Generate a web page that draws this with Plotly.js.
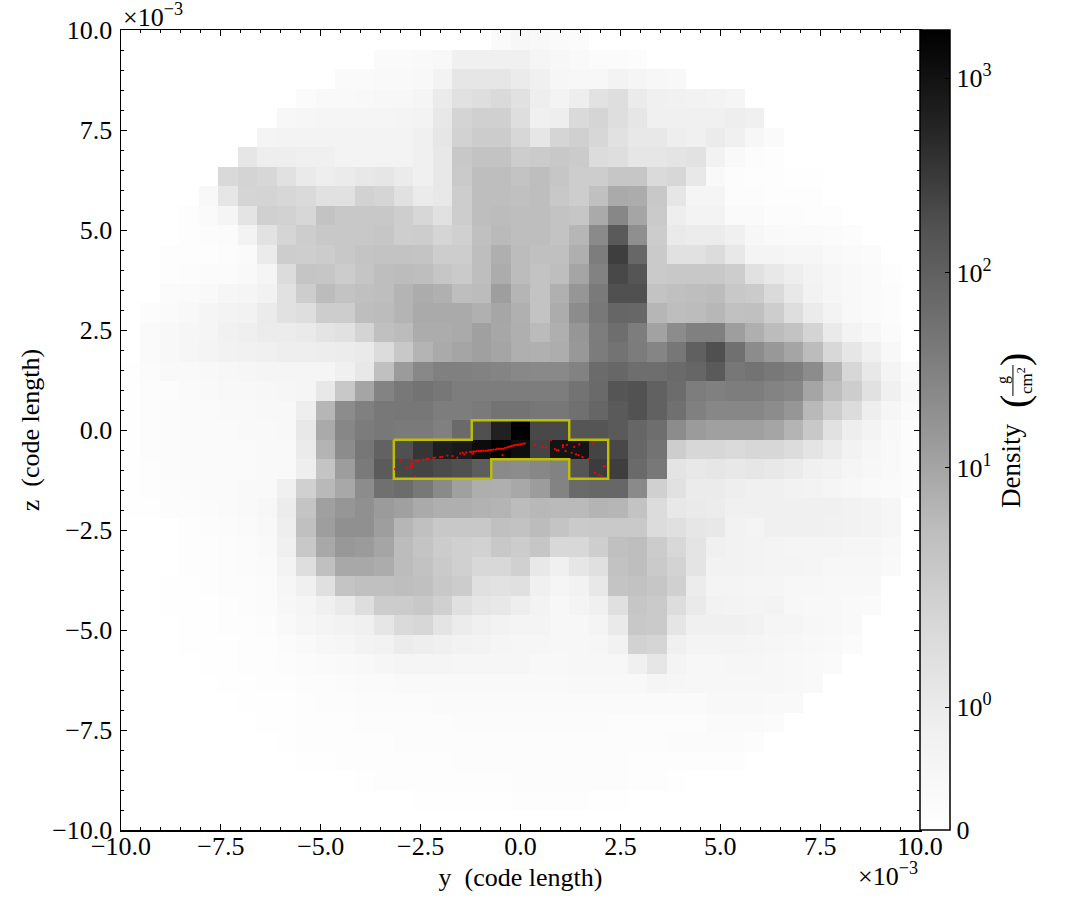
<!DOCTYPE html>
<html>
<head>
<meta charset="utf-8">
<script src="https://cdn.plot.ly/plotly-3.0.1.min.js"></script>
<style>html,body{margin:0;padding:0;background:#fff}</style>
</head>
<body>
<div id="chart" style="width:1085px;height:919px"></div>
<script>
// Cell centres, units of 1e-3 code length (41 x 41 cells over -10..10)
const cellCount = 41;
const cellCentres = Array.from({length: cellCount}, (_, i) => -10 + (i + 0.5) * 20 / cellCount);

// Projected density, g/cm^2, row by row from the top (z = +) to the bottom (z = -)
const density = [
[0,0,0,0,0,0,0,0,0,0,0,0,0,0,0,0,0,0,0,.27,.44,.38,.27,.22,0,0,0,0,0,0,0,0,0,0,0,0,0,0,0,0,0],
[0,0,0,0,0,0,0,0,0,0,0,0,0,.27,.27,.33,.38,.82,.82,.82,.82,.54,.44,.33,.22,.22,.16,0,0,0,0,0,0,0,0,0,0,0,0,0,0],
[0,0,0,0,0,0,0,0,0,0,0,.27,.27,.33,.33,.38,.65,1.18,1.18,1.18,.99,.82,.49,.44,.44,.65,.54,.44,.38,0,0,0,0,0,0,0,0,0,0,0,0],
[0,0,0,0,0,0,0,0,0,.22,.33,.33,.38,.44,.44,.54,.99,1.35,1.46,1.6,1.35,.89,.65,.89,1.31,1.46,.99,.82,.76,.71,.65,.54,0,0,0,0,0,0,0,0,0],
[0,0,0,0,0,0,0,0,.44,.49,.54,.54,.54,.54,.6,.65,1.1,1.8,2.13,2.13,1.46,.82,.89,1.6,1.75,1.46,1.18,.82,.82,.82,.82,.89,.82,0,0,0,0,0,0,0,0],
[0,0,0,0,0,0,0,.6,.65,.65,.65,.65,.65,.65,.65,.82,1.18,1.96,2.54,2.54,1.69,1.18,1.75,2.13,1.69,1.35,1.1,1.1,.89,.82,.99,.82,.44,.27,0,0,0,0,0,0,0],
[0,0,0,0,0,0,1.18,.89,.89,.82,.82,.65,.65,.65,.65,.82,1.1,3,3.7,3.7,2.44,2.6,3,2.6,1.53,1.46,1.18,1.18,1.24,1.31,.71,.33,.16,.11,0,0,0,0,0,0,0],
[0,0,0,0,0,1.63,1.8,1.69,1.35,1.03,.89,.99,1.1,1.18,.99,.82,1.1,2.76,4.6,4.6,3.7,4.6,3.3,2.44,2.44,3.3,3.3,1.6,1.69,1.1,.33,.16,.11,.11,.05,.05,0,0,0,0,0],
[0,0,0,0,.38,1.18,1.75,1.8,1.69,1.6,1.35,1.35,1.96,1.75,1.35,.99,1.1,2.44,4.6,4.6,4.2,4.6,3,2.44,4.2,8.5,8,3,1.18,.54,.54,.16,.16,.11,.11,.11,0,0,0,0,0],
[0,0,0,.11,.27,.54,1.24,2.13,1.96,1.69,3.7,3,3,3,2.3,1.69,1.35,2.44,4.6,4.9,4.6,4.6,3.7,3.3,8.5,26,9.9,2.76,.89,.65,.65,.27,.27,.16,.16,.11,.11,0,0,0,0],
[0,0,0,.11,.16,.22,.65,1.31,1.75,2.44,3,3,3,3.3,2.3,2.44,1.75,2.13,4.2,5.2,4.6,4.6,3.7,5.9,23,125,20,2.54,1.03,.96,.96,.82,.44,.33,.27,.27,.22,.16,0,0,0],
[0,0,.11,.11,.11,.16,.27,.99,2.44,2.3,2.54,3,3.56,3.7,3.7,3.56,2.44,2.44,4.6,7.3,4.9,4.2,4.2,7.3,36,282,78,2.76,1.35,1.35,1.53,1.1,.6,.6,.49,.49,.33,.27,.22,0,0],
[0,0,.11,.16,.22,.22,.33,.54,1.53,3.4,3.3,2.54,3.4,4.6,4.9,4.6,3.3,2.76,4.6,8,4.9,3.7,4.6,9.9,30.5,216,149,2.76,3,3,3,2.44,1.35,1.1,.89,.65,.49,.38,.27,.11,0],
[0,0,.22,.27,.33,.49,.54,.71,1.35,2.44,4.9,3.7,4.2,4.6,6.3,8,7,4.6,4.9,12.2,6,3.7,7,15.6,40,175,175,3.7,4.2,4.6,4.9,3,2.6,1.6,1.1,.71,.49,.38,.27,.16,0],
[0,.16,.27,.38,.54,.65,.71,.99,1.35,1.46,2.44,2.44,4.6,4.9,6.3,8.5,8.5,8.5,7,9.5,7,3.7,8,21.9,43,82,78,5.9,4.6,4.9,5.7,4,4.2,2.44,1.46,.99,.65,.38,.27,.16,0],
[0,.27,.38,.49,.54,.76,.85,.96,.96,1.03,1.24,1.35,1.8,4.2,4.9,8,8,8.5,11.5,9.3,7.3,5,7.3,15.6,36,61,36,10.9,21.9,33,33,12.2,7.3,4.9,3.7,1.8,1.03,.65,.44,.22,0],
[0,.27,.38,.49,.6,.71,.76,.82,.89,.89,.92,.96,1.03,1.53,3,6.3,8.5,9.9,11.5,9.9,7.3,7,7.8,14.7,38,50,38,28,45,100,175,56,21.9,14.7,9.9,4.9,1.65,1.18,.82,.38,0],
[.05,.22,.33,.33,.38,.44,.49,.54,.54,.54,.54,.82,1.1,4.2,13.4,25,33,33,31,28.5,25,24,24,31,68,78,61,61,71,82,125,45,51,43,36,21.9,6.3,1.69,1.1,.6,.27],
[.05,.16,.16,.27,.33,.38,.38,.44,.49,.54,1.1,3,9.9,30,43,51,45,36,36,36,36,36,36,51,71,149,166,98,65,36,33,36,36,30,26,9.9,4.6,2.44,1.35,.82,.38],
[.05,.16,.22,.27,.27,.33,.33,.38,.38,.89,5.9,21.9,33,43,45,45,36,36,40,51,51,45,45,56,82,125,166,98,56,33,26,26,26,21.9,15.6,5.4,2.44,1.53,.89,.49,.27],
[.05,.16,.22,.27,.27,.27,.33,.33,.38,1.1,8.5,26,38,43,40,40,33,71,175,616,1784,216,216,149,149,125,82,61,21.9,13.4,11.5,11.5,11.5,9.9,6.3,3,1.35,.89,.65,.38,.16],
[.05,.16,.22,.27,.27,.27,.27,.33,.33,.99,6.3,21.9,45,95,175,350,673,790,1200,1784,1130,240,930,930,240,216,78,51,2.44,1.69,1.69,1.6,1.69,1.69,1.53,1.24,.99,.71,.49,.33,.16],
[.05,.11,.22,.27,.27,.27,.27,.33,.33,.89,3.5,12.5,40,118,227,240,200,175,110,23.4,22,26,30.5,149,295,282,71,43,1.24,1.1,1.18,1.1,1.18,1.1,.99,.82,.71,.54,.44,.33,.16],
[.05,.11,.16,.22,.27,.27,.33,.33,.82,2.13,5.4,9,21.9,56,65,43,23.4,11.5,7.5,7.3,9,13,30,71,78,78,23.4,2.1,1.35,.99,.99,.89,.82,.82,.71,.65,.54,.44,.33,.27,.16],
[.05,.05,.16,.16,.22,.27,.33,.44,.96,3.56,11.5,15.6,19,13.4,11.5,8.5,7.3,7.3,6.6,6.3,4.9,5.5,5.2,5.2,6.3,5.9,3.7,1.53,1.1,1.03,.96,.82,.82,.82,.82,.82,.82,.71,.65,.49,0],
[0,0,0,.11,.16,.22,.27,.38,.89,4.2,12.2,19,19,12.2,5.9,4.2,3,3,3,4.2,3.9,4.9,3.6,2.8,2.9,2.9,2.9,1.53,1.39,1.18,1.1,.7,.6,.82,.82,.82,.76,.71,.65,.49,0],
[0,0,0,.11,.11,.16,.22,.33,.82,3,9,14.7,13.4,10,4.9,3.56,2.54,2.13,1.96,3,2.54,3.3,1.65,1.65,2.3,4.2,4.6,2.54,1.65,1.25,.82,.71,.65,.6,.54,.54,.54,.49,.49,.38,0],
[0,0,0,.11,.11,.16,.22,.27,.65,1.46,4.2,9,9,8,4.9,3.9,2.76,2.13,1.65,1.65,2.13,1.1,.82,1.18,1.39,3.9,4.6,2.8,1.9,1.25,.71,.71,.65,.6,.6,.54,.44,.44,.44,.33,0],
[0,0,.05,.05,.11,.16,.16,.22,.49,.82,1.39,3.56,4.2,4.2,4.6,4.2,3,2.54,1.39,1.31,1.39,.82,.54,.71,1.1,3.56,3.9,3.3,2.13,.96,.6,.6,.54,.54,.44,.44,.38,.38,.38,0,0],
[0,0,.05,.05,.05,.11,.16,.22,.44,.54,.82,1.03,1.46,2.54,2.54,3,2.13,1.39,1.18,1.1,.89,.65,.44,.6,.82,1.39,3.3,2.8,1.5,1.03,.7,.65,.6,.65,.44,.38,.38,.33,.27,0,0],
[0,0,0,.05,.05,.11,.11,.16,.33,.49,.6,.71,.82,1.18,1.6,1.69,1.24,.96,.82,.71,.6,.6,.44,.44,.6,1.03,3,2.8,1.2,.82,.82,.82,.7,.54,.54,.44,.38,.33,0,0,0],
[0,0,0,.05,.05,.05,.11,.11,.22,.33,.44,.49,.65,.71,.96,.89,.82,.71,.65,.54,.49,.5,.44,.44,.49,.7,2,1.75,.82,.6,.6,.6,.54,.49,.44,.38,.33,.22,0,0,0],
[0,0,0,0,.05,.05,.11,.11,.16,.22,.27,.33,.38,.49,.54,.54,.54,.49,.49,.49,.49,.38,.38,.44,.44,.44,.82,1.18,.6,.44,.44,.49,.49,.44,.38,.33,.27,0,0,0,0],
[0,0,0,0,0,.05,.05,.11,.11,.16,.16,.22,.27,.27,.33,.33,.33,.33,.33,.33,.33,.33,.33,.38,.38,.38,.38,.54,.49,.44,.44,.44,.44,.44,.38,.33,0,0,0,0,0],
[0,0,0,0,0,0,.05,.05,.05,.11,.16,.16,.22,.22,.22,.22,.27,.27,.27,.27,.27,.27,.27,.27,.27,.27,.27,.27,.27,.27,.38,.38,.38,.33,.33,0,0,0,0,0,0],
[0,0,0,0,0,0,0,.05,.05,.11,.11,.11,.16,.16,.16,.16,.16,.22,.22,.22,.22,.22,.22,.22,.22,.16,.16,.16,.16,.16,.27,.27,.27,.22,0,0,0,0,0,0,0],
[0,0,0,0,0,0,0,0,.05,.11,.11,.11,.11,.11,.16,.16,.16,.16,.16,.16,.16,.16,.16,.16,.16,.16,.16,.16,.22,.22,.22,.22,.16,0,0,0,0,0,0,0,0],
[0,0,0,0,0,0,0,0,0,.05,.05,.11,.11,.11,.11,.11,.11,.16,.16,.16,.16,.16,.16,.16,.16,.16,.11,.11,.11,.11,.11,.11,0,0,0,0,0,0,0,0,0],
[0,0,0,0,0,0,0,0,0,0,0,0,.05,.11,.11,.11,.11,.11,.11,.11,.16,.16,.16,.16,.16,.16,.11,.11,.05,0,0,0,0,0,0,0,0,0,0,0,0],
[0,0,0,0,0,0,0,0,0,0,0,0,0,0,0,.05,.05,.05,.05,.05,.11,.11,.11,.11,.05,.05,0,0,0,0,0,0,0,0,0,0,0,0,0,0,0],
[0,0,0,0,0,0,0,0,0,0,0,0,0,0,0,0,0,0,0,0,0,0,0,0,0,0,0,0,0,0,0,0,0,0,0,0,0,0,0,0,0]
];

// Yellow contour outline (data units of 1e-3)
const contourY = [-3.171,-1.220,-1.220,1.220,1.220,2.195,2.195,1.220,1.220,-0.732,-0.732,-3.171,-3.171];
const contourZ = [-0.244,-0.244,0.244,0.244,-0.244,-0.244,-1.220,-1.220,-0.732,-0.732,-1.220,-1.220,-0.244];

// Red particles (data units of 1e-3)
const particleY = [-3.14,-3.01,-2.85,-2.76,-2.72,-2.74,-2.70,-2.72,-2.62,-2.56,-2.43,-2.35,-2.31,-2.18,-2.14,-2.01,-1.96,-1.83,-1.70,-1.58,-1.51,-1.45,-1.41,-1.36,-2.64,-1.26,-1.22,-1.18,-1.14,-1.10,-1.05,-1.01,-0.97,-0.93,-0.88,-0.84,-0.80,-0.76,-0.72,-0.68,-0.63,-0.59,-0.55,-0.51,-0.47,-0.43,-0.39,-0.34,-0.30,-0.26,-0.22,-0.18,-0.14,-0.09,-0.05,-0.01,0.03,0.07,0.11,-1.19,-0.45,0.36,0.55,0.64,0.76,0.86,0.91,0.95,1.06,1.06,1.13,1.16,1.28,1.34,1.39,1.45,1.47,1.55,1.70,1.81,1.86,1.97,2.03,2.09,2.12];
const particleZ = [-0.98,-0.77,-0.94,-0.93,-0.75,-0.84,-0.84,-0.91,-0.78,-0.77,-0.74,-0.73,-0.72,-0.70,-0.69,-0.68,-0.67,-0.64,-0.65,-0.69,-0.59,-0.57,-0.61,-0.56,-1.15,-0.55,-0.55,-0.54,-0.54,-0.53,-0.53,-0.53,-0.52,-0.52,-0.52,-0.52,-0.51,-0.50,-0.50,-0.49,-0.49,-0.48,-0.47,-0.47,-0.47,-0.47,-0.45,-0.44,-0.43,-0.41,-0.40,-0.39,-0.38,-0.37,-0.37,-0.36,-0.35,-0.34,-0.34,-0.59,-0.63,-0.37,-0.43,-0.44,-0.25,-0.48,-0.51,-0.51,-0.38,-0.43,-0.53,-0.37,-0.57,-0.42,-0.61,-0.63,-0.36,-0.68,-0.72,-0.34,-1.07,-1.12,-1.15,-0.91,-0.90];

// Colour bar labels
const barValues = [0, 1, 10, 100, 1000];
const barLabels = ['0', '10<sup>0</sup>', '10<sup>1</sup>', '10<sup>2</sup>', '10<sup>3</sup>'];
const axisTicks = [-10, -7.5, -5, -2.5, 0, 2.5, 5, 7.5, 10];

// Symmetric-log colour scale position (0..1), the library then maps it to greys
const LINTHRESH = 1.75, DECADE = 0.2434, LINSCALE = 1.105;
const scale = d => d <= LINTHRESH ? DECADE * LINSCALE * d / LINTHRESH
                                  : DECADE * (LINSCALE + Math.log10(d / LINTHRESH));

// matplotlib "Greys"
const greys = [[0,'rgb(255,255,255)'],[0.125,'rgb(240,240,240)'],[0.25,'rgb(217,217,217)'],[0.375,'rgb(189,189,189)'],
               [0.5,'rgb(150,150,150)'],[0.625,'rgb(115,115,115)'],[0.75,'rgb(82,82,82)'],[0.875,'rgb(37,37,37)'],[1,'rgb(0,0,0)']];

const serif = 'Liberation Serif, serif';
const rowCentres = cellCentres.slice().reverse();

const traces = [
  {type:'heatmap', x:cellCentres, y:rowCentres, z:density.map(r => r.map(scale)),
   zmin:0, zmax:1, colorscale:greys, zsmooth:false, hoverinfo:'skip',
   colorbar:{x:1, xanchor:'left', xpad:0, y:0.5, yanchor:'middle', ypad:0, len:1, lenmode:'fraction',
             thickness:30, thicknessmode:'pixels', outlinecolor:'#000', outlinewidth:1.5,
             tickmode:'array', tickvals:barValues.map(scale), ticktext:barLabels,
             ticks:'inside', ticklen:5, tickwidth:1, tickcolor:'#000',
             tickfont:{family:serif, size:26, color:'#000'}, borderwidth:0}},
  {type:'scatter', mode:'lines', x:contourY, y:contourZ, hoverinfo:'skip', showlegend:false,
   line:{color:'#bfbf00', width:2.4}},
  {type:'scatter', mode:'markers', x:particleY, y:particleZ, hoverinfo:'skip', showlegend:false,
   marker:{color:'#ff0000', size:2.2, line:{width:0}}}
];

const axis = (titleText, standoff, labelShift) => ({
  range:[-10,10], tickmode:'array', tickvals:axisTicks, ticktext:axisTicks.map(v => (v < 0 ? '\u2212' : '') + Math.abs(v).toFixed(1)),
  ticks:'inside', ticklen:6, tickwidth:1, tickcolor:'#000',
  minor:{ticks:'inside', ticklen:3, tickwidth:1, tickcolor:'#000', dtick:0.5, showgrid:false},
  showline:true, linecolor:'#000', linewidth:1.5, mirror:'allticks', showgrid:false, zeroline:false,
  tickangle:0, tickfont:{family:serif, size:26, color:'#000'}, layer:'above traces',
  ticklabelstandoff:labelShift,
  automargin:false,
  title:{text:titleText, font:{family:serif, size:26, color:'#000'}, standoff:standoff}
});

const L = 120.5, T = 30, W = 799.5, H = 800;
const px = x => (x - L) / W;
const py = y => (T + H - y) / H;
const note = (text, x, y, size, angle) => ({
  text, xref:'paper', yref:'paper', x:px(x), y:py(y), xanchor:'center', yanchor:'middle',
  showarrow:false, textangle:angle || 0, font:{family:serif, size, color:'#000'}
});

const layout = {
  width:1085, height:919, autosize:false,
  margin:{l:L, r:1085-L-W, t:T, b:919-T-H, pad:0},
  paper_bgcolor:'#fff', plot_bgcolor:'#fff', showlegend:false,
  xaxis:axis('y\u00a0\u00a0(code length)', 8, -8),
  yaxis:axis('z\u00a0\u00a0(code length)', 5, 2),
  annotations:[
    note('\u00d710<sup>\u22123</sup>', 153, 16, 26),
    note('\u00d710<sup>\u22123</sup>', 888, 874, 26),
    note('Density', 1011, 466, 27, -90),
    note('(', 1014, 401, 40, -90),
    note(')', 1014, 359, 40, -90),
    note('g', 1003, 380, 16, -90),
    note('cm<sup>2</sup>', 1025, 380, 17, -90)
  ],
  shapes:[{type:'line', xref:'paper', yref:'paper', x0:px(1013), x1:px(1013), y0:py(365), y1:py(396), line:{color:'#000', width:1}}]
};

Plotly.newPlot('chart', traces, layout, {displayModeBar:false, staticPlot:true});
</script>
</body>
</html>
